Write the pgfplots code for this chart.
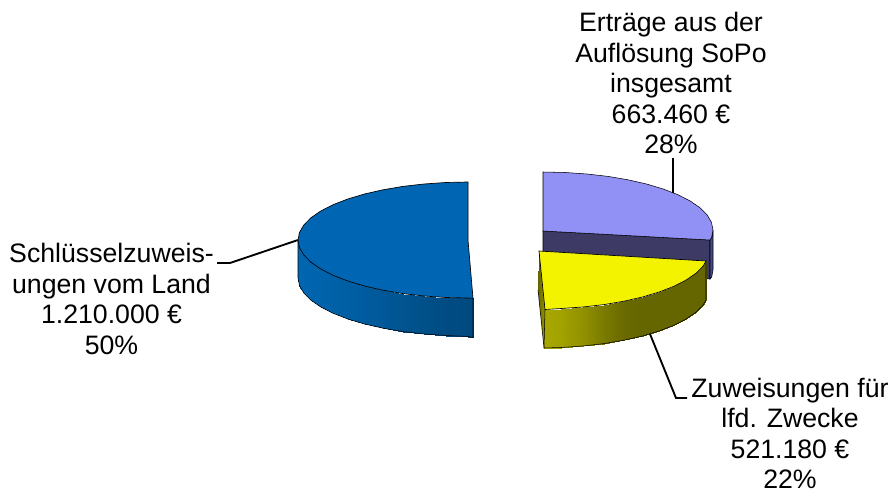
\documentclass[border=0pt]{standalone}
\usepackage{fontspec}
\setmainfont{Liberation Sans}
\usepackage{pgfplots}
\pgfplotsset{compat=1.18}
\definecolor{pieblue}{RGB}{0,102,179}
\definecolor{pielav}{RGB}{145,145,245}
\definecolor{pielavcut}{RGB}{61,59,102}
\definecolor{pielavside}{RGB}{72,72,140}
\definecolor{pieyel}{RGB}{243,243,0}
\pgfplotsset{
  colormap={bluewall}{rgb255=(0,102,176) rgb255=(0,74,128)},
  colormap={yelwall}{rgb255=(168,168,0) rgb255=(102,102,0)},
  colormap={yelcut}{rgb255=(100,100,0) rgb255=(150,150,0)},
}
\begin{document}
\begin{tikzpicture}
\useasboundingbox (0,0) rectangle (669.75pt,369.75pt);
\begin{axis}[
  anchor=south west, at={(0,0)},
  x=0.75pt, y=0.75pt,
  xmin=0, xmax=893, ymin=0, ymax=493,
  y dir=reverse,
  hide axis, clip=false,
  point meta min=0, point meta max=1,
]
% blue slice, wall first
\addplot[surf, shader=interp, colormap name=bluewall, mesh/rows=2, point meta=explicit]
  table[meta=c] {
x y c
298 240 0
299.5 247.6 0
303.8 255 0.02
310.9 262.2 0.05
320.8 269 0.1
333.1 275.3 0.17
347.8 281 0.25
364.5 286 0.37
383 290.2 0.5
402.9 293.6 0.65
424 296 0.8
445.8 297.5 0.95
468 298 1
473 298.3 1

298 278 0
299.5 285.6 0
303.8 293 0.02
310.9 300.2 0.05
320.8 307 0.1
333.1 313.3 0.17
347.8 319 0.25
364.5 324 0.37
383 328.2 0.5
402.9 331.6 0.65
424 334 0.8
445.8 335.5 0.95
468 336.5 1
473 337.5 1
};
\addplot[black, line width=0.4pt] coordinates {
  (298,240) (298,278) (299.5,285.6) (303.8,293) (310.9,300.2) (320.8,307) (333.1,313.3)
  (347.8,319) (364.5,324) (383,328.2) (402.9,331.6) (424,334) (445.8,335.5) (468,336.5) (473,337.5) (473,298.3)
};
\addplot[fill=pieblue, draw=black, line width=0.5pt] coordinates {
  (468,182) (445.8,182.5) (424,184) (402.9,186.4) (383,189.8) (364.5,194) (347.8,199)
  (333.1,204.7) (320.8,211) (310.9,217.8) (303.8,225) (299.5,232.4) (298,240)
  (299.5,247.6) (303.8,255) (310.9,262.2) (320.8,269) (333.1,275.3) (347.8,281)
  (364.5,286) (383,290.2) (402.9,293.6) (424,296) (445.8,297.5) (468,298) (473,298.3)
  (468,240)
} -- cycle;
% lavender slice
\addplot[fill=pielavcut, draw=black, line width=0.4pt] coordinates {
  (543,231) (710,240) (710,279) (543,270)
} -- cycle;
\addplot[fill=pielavside, draw=black, line width=0.4pt] coordinates {
  (710,240) (711.7,237) (713,230) (713,270) (711.7,277) (710,279)
} -- cycle;
\addplot[fill=pielav, draw=black, line width=0.4pt] coordinates {
  (543,172) (565.2,172.5) (587,174) (608.1,176.4) (628,179.8) (646.5,184) (663.2,189)
  (677.9,194.7) (690.2,201) (700.1,207.8) (707.2,215) (711.5,222.4) (713,230)
  (711.7,237) (710,240) (543,231)
} -- cycle;
% yellow slice
\addplot[surf, shader=interp, colormap name=yelcut, mesh/rows=2, point meta=explicit]
  table[meta=c] {
x y c
539 251 0
545 310 1

538 290 0
544 348 1
};
\addplot[surf, shader=interp, colormap name=yelwall, mesh/rows=2, point meta=explicit]
  table[meta=c] {
x y c
706 261 1
703.2 266 1
696.1 273.2 1
686.2 280 1
673.9 286.3 1
659.2 292 1
642.5 297 1
624 301.2 0.95
604.1 304.6 0.7
583 307 0.35
561.2 308.5 0.1
545 309.5 0

706 300 1
703.2 305 1
696.1 312.2 1
686.2 319 1
673.9 325.3 1
659.2 331 1
642.5 336 1
624 340.2 0.95
604.1 343.6 0.7
583 346 0.35
561.2 347.5 0.1
544 348 0
};
\addplot[black, line width=0.4pt] coordinates {
  (538,290) (544,348) (561.2,347.5) (583,346) (604.1,343.6) (624,340.2) (642.5,336)
  (659.2,331) (673.9,325.3) (686.2,319) (696.1,312.2) (703.2,305) (706,300) (706,261)
};
\addplot[black, line width=0.4pt] coordinates {(545,310) (544,348)};
\addplot[fill=pieyel, draw=black, line width=0.5pt] coordinates {
  (539,251) (706,261) (703.2,266) (696.1,273.2) (686.2,280) (673.9,286.3) (659.2,292)
  (642.5,297) (624,301.2) (604.1,304.6) (583,307) (561.2,308.5) (545,309.5)
} -- cycle;
% leader lines
\addplot[black, line width=1.4pt] coordinates {(673,193) (673,158)};
\addplot[black, line width=1.4pt] coordinates {(298,240) (230,263) (217,263)};
\addplot[black, line width=1.4pt] coordinates {(650,334) (676,398) (687,398)};
% labels
\node[align=center, font=\fontsize{20}{22.9}\selectfont] at (axis cs:671,83)
  {Erträge aus der\\Auflösung SoPo\\insgesamt\\663.460 €\\28\%};
\node[align=center, font=\fontsize{20}{22.9}\selectfont] at (axis cs:111.5,299)
  {Schlüsselzuweis-\\ungen vom Land\\1.210.000 €\\50\%};
\node[align=center, font=\fontsize{20}{22.9}\selectfont] at (axis cs:790,433.5)
  {Zuweisungen für\\lfd. Zwecke\\521.180 €\\22\%};
\end{axis}
\end{tikzpicture}
\end{document}
